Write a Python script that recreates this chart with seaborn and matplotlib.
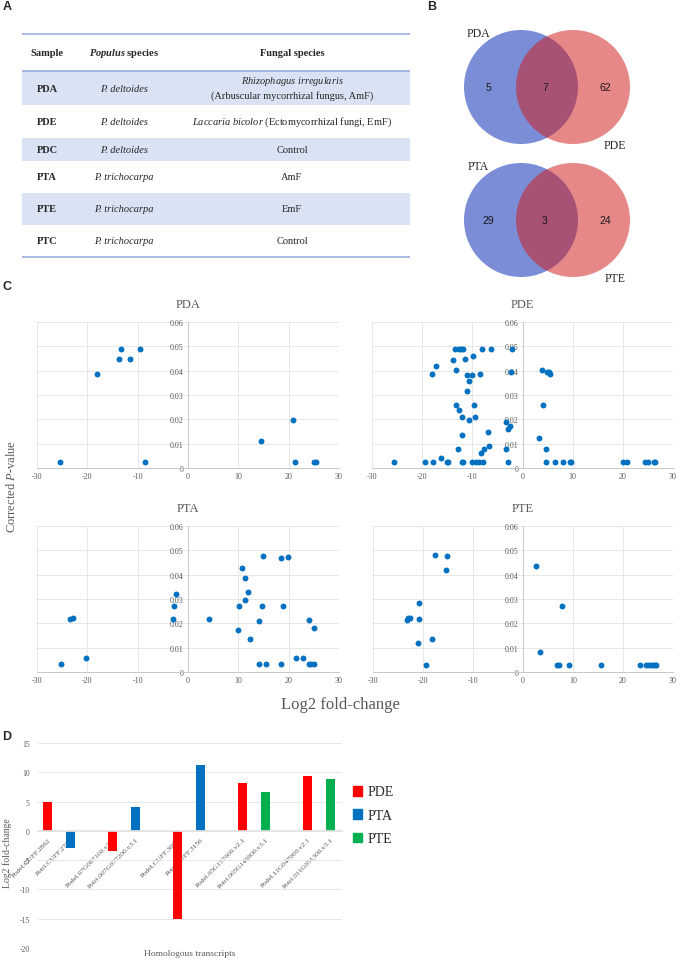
import numpy as np
import pandas as pd
import matplotlib
matplotlib.use('Agg')
import matplotlib.pyplot as plt
from matplotlib.patches import Circle, Patch
from matplotlib.ticker import FuncFormatter
import seaborn as sns

# ---- A: sample table
SAMPLES = ['PDA', 'PDE', 'PDC', 'PTA', 'PTE', 'PTC']
POPULUS = ['P. deltoides'] * 3 + ['P. trichocarpa'] * 3
FUNGI = [r'$\mathit{Rhizophagus\ irregularis}$' + '\n(Arbuscular mycorrhizal fungus, AmF)',
         r'$\mathit{Laccaria\ bicolor}$ (Ectomycorrhizal fungi, EmF)',
         'Control', 'AmF', 'EmF', 'Control']

# ---- B: Venn counts (left only, shared, right only)
VENN_SETS = [('PDA', 'PDE'), ('PTA', 'PTE')]
VENN_COUNTS = [[5, 7, 62], [29, 3, 24]]

# ---- C: log2 fold-change vs corrected P-value
pda_lfc = [-25.5, -18.0, -13.8, -13.4, -11.5, -9.5, -8.5, 14.5, 20.9, 21.3, 25.0, 25.5]
pda_p = [0.0025, 0.0385, 0.0446, 0.049, 0.0449, 0.0491, 0.0025, 0.011, 0.0198, 0.0025, 0.0025, 0.0025]

pde_lfc = [-25.7, -19.4, -17.9, -15.0, -14.8, -16.3, -18.0, -17.2, -13.8, -13.5, -12.6, -12.3,
           -11.8, -13.2, -11.5, -11.0, -10.0, -9.9, -10.6, -11.0, -13.2, -12.7, -12.0, -10.6,
           -9.6, -9.4, -12.1, -12.8, -12.1, -11.8, -10.0, -9.3, -8.6, -7.9, -8.4, -8.0,
           -6.3, -8.3, -7.7, -6.7, -6.8, -3.3, -2.9, -3.3, -2.8, -2.5, -2.3, -2.1,
           3.2, 3.9, 4.1, 4.6, 4.7, 4.9, 5.3, 5.5, 6.5, 8.1, 9.4, 9.7,
           20.1, 20.8, 24.4, 25.0, 26.2, 26.5]
pde_p = [0.0023, 0.0023, 0.0023, 0.0023, 0.0023, 0.0043, 0.0385, 0.042, 0.0444, 0.0489, 0.0489, 0.0489,
         0.0489, 0.0402, 0.0449, 0.0384, 0.0384, 0.0461, 0.0359, 0.0318, 0.0259, 0.0239, 0.0209, 0.0197,
         0.0259, 0.0209, 0.0135, 0.0078, 0.0023, 0.0023, 0.0023, 0.0023, 0.0023, 0.0023, 0.0385, 0.0489,
         0.049, 0.0063, 0.0077, 0.0092, 0.0147, 0.0189, 0.0025, 0.0078, 0.016, 0.0173, 0.0396, 0.0489,
         0.0122, 0.0402, 0.0259, 0.0078, 0.0023, 0.0396, 0.0396, 0.0388, 0.0023, 0.0023, 0.0023, 0.0023,
         0.0023, 0.0023, 0.0023, 0.0023, 0.0023, 0.0023]

pta_lfc = [-25.2, -23.4, -22.8, -20.3, -2.9, -2.7, -2.3, 4.1, 9.9, 10.1, 10.7, 11.3, 11.3, 11.9,
           12.4, 14.2, 14.2, 14.8, 14.9, 15.4, 18.4, 18.4, 18.9, 19.8, 21.5, 22.8, 24.0, 24.0,
           24.5, 25.0, 25.0]
pta_p = [0.0032, 0.0216, 0.0223, 0.0056, 0.0219, 0.027, 0.0321, 0.0219, 0.0173, 0.0273, 0.0427, 0.0297,
         0.0388, 0.0327, 0.0137, 0.021, 0.0032, 0.0271, 0.0477, 0.0032, 0.047, 0.0032, 0.0271, 0.0473,
         0.0056, 0.0056, 0.0215, 0.0032, 0.0032, 0.0181, 0.0032]

pte_lfc = [-23.3, -23.0, -22.7, -20.9, -20.9, -21.1, -19.4, -18.2, -17.7, -15.5, -15.3,
           2.5, 3.3, 6.7, 7.1, 7.7, 9.1, 15.6, 23.4, 24.6, 25.0, 25.5, 25.9, 26.3, 26.5]
pte_p = [0.0215, 0.022, 0.0223, 0.0282, 0.0219, 0.0121, 0.0029, 0.0136, 0.0479, 0.042, 0.0475,
         0.0436, 0.0081, 0.0029, 0.0029, 0.027, 0.0029, 0.0029, 0.0029, 0.0029, 0.0029, 0.0029,
         0.0029, 0.0029, 0.0029]

# ---- D: homologous transcripts
BAR_TRANSCRIPTS = ['Podel.CUFF.2862', 'Potri.CUFF.2770', 'Podel.07G087100.v2.1', 'Potri.007G077200.v3.1',
                   'Podel.CUFF.3061', 'Potri.CUFF.3156', 'Podel.05G157600.v2.1', 'Potri.005G145900.v3.1',
                   'Podel.11G047900.v2.1', 'Potri.011G051300.v3.1']
BAR_PAIR = ['1', '1', '2', '2', '3', '3', '4', '4', '5', '5']
BAR_SPECIES = ['P. deltoides', 'P. trichocarpa'] * 5
BAR_SERIES = ['PDE', 'PTA', 'PDE', 'PTA', 'PDE', 'PTA', 'PDE', 'PTE', 'PDE', 'PTE']
BAR_LFC = [4.9, -2.9, -3.4, 4.1, -15.0, 11.3, 8.1, 6.6, 9.3, 8.9]
SERIES_COLORS = {'PDE': '#FF0000', 'PTA': '#0070C0', 'PTE': '#00B050'}

GREY = '#595959'
GRID = '#E3E3E3'

sns.set_theme(style='white')
plt.rcParams['font.family'] = ['Liberation Serif', 'DejaVu Serif']
plt.rcParams['axes.unicode_minus'] = False
plt.rcParams['mathtext.fontset'] = 'custom'
plt.rcParams['mathtext.rm'] = 'Liberation Serif'
plt.rcParams['mathtext.it'] = 'Liberation Serif:italic'
plt.rcParams['mathtext.bf'] = 'Liberation Serif:bold'
plt.rcParams['mathtext.bfit'] = 'Liberation Serif:italic:bold'

W, H = 680, 962
fig = plt.figure(figsize=(W / 100, H / 100), dpi=100)


def px_axes(x0, y0, x1, y1):
    """Axes placed by pixel box (top-left origin)."""
    return fig.add_axes([x0 / W, 1 - y1 / H, (x1 - x0) / W, (y1 - y0) / H])


# ---------------- A: table
ax = px_axes(0, 0, 430, 265)
ax.set_xlim(0, 430)
ax.set_ylim(265, 0)
ax.axis('off')
edges = [35, 72, 106, 139, 162, 194, 226, 258]
col_x = [47, 124, 292]
tfs = 7.5
for i in range(len(SAMPLES)):
    top, bot = edges[i + 1], edges[i + 2]
    if i % 2 == 0:
        ax.axhspan(top, bot, xmin=22 / 430, xmax=410 / 430, color='#DAE3F3', lw=0)
ax.hlines([35, 72, 258], 22, 410, color='#8FAADC', lw=1.1)

hy = (edges[0] + edges[1]) / 2
ax.text(col_x[0], hy, 'Sample', ha='center', va='center', fontsize=tfs, fontweight='bold')
ax.text(col_x[1], hy, r'$\mathbfit{Populus}$ species', ha='center', va='center', fontsize=tfs,
        fontweight='bold')
ax.text(col_x[2], hy, 'Fungal species', ha='center', va='center', fontsize=tfs, fontweight='bold')

for i, (s, p, f) in enumerate(zip(SAMPLES, POPULUS, FUNGI)):
    mid = (edges[i + 1] + edges[i + 2]) / 2
    ax.text(col_x[0], mid, s, ha='center', va='center', fontsize=tfs, fontweight='bold')
    ax.text(col_x[1], mid, p, ha='center', va='center', fontsize=tfs, fontstyle='italic')
    lines = f.split('\n')
    offs = np.linspace(-7.5, 7.5, len(lines)) if len(lines) > 1 else [0]
    for line, o in zip(lines, offs):
        ax.text(col_x[2], mid + o, line, ha='center', va='center', fontsize=tfs)

# ---------------- B: Venn diagrams
ax = px_axes(440, 0, 680, 300)
ax.set_xlim(440, 680)
ax.set_ylim(300, 0)
ax.axis('off')
for (left, right), counts, cy in zip(VENN_SETS, VENN_COUNTS, [88, 221]):
    ax.add_patch(Circle((521, cy), 57, color='#7B8DD6', lw=0))
    ax.add_patch(Circle((573, cy), 57, color='#D11C1C', alpha=0.52, lw=0))
    for cx, n in zip([488, 545, 605], counts):
        ax.text(cx, cy, str(n), ha='center', va='center', fontsize=7.5,
                family='Liberation Sans', color='#1a1a1a')
    ax.text(478, cy - 54, left, ha='center', va='center', fontsize=8.5)
    ax.text(615, cy + 58, right, ha='center', va='center', fontsize=8.5)

# ---------------- C: scatter panels
panels = [('PDA', pda_lfc, pda_p, (37, 323, 339, 469)),
          ('PDE', pde_lfc, pde_p, (372, 323, 673, 469)),
          ('PTA', pta_lfc, pta_p, (37, 527, 339, 673)),
          ('PTE', pte_lfc, pte_p, (373, 527, 673, 673))]
for name, lfc, pval, box in panels:
    ax = px_axes(*box)
    sns.scatterplot(x=lfc, y=pval, ax=ax, color='#0070C0', s=18, linewidth=0)
    for side in ('top', 'right'):
        ax.spines[side].set_visible(False)
    ax.spines['left'].set_position(('data', 0))
    for side in ('left', 'bottom'):
        ax.spines[side].set_color('#C8C8C8')
        ax.spines[side].set_linewidth(0.7)
    ax.set_xlim(-30, 30)
    ax.set_ylim(0, 0.06)
    ax.set_xticks(range(-30, 31, 10))
    ax.set_yticks([0, 0.01, 0.02, 0.03, 0.04, 0.05, 0.06])
    ax.yaxis.set_major_formatter(FuncFormatter(lambda v, _: '0' if abs(v) < 1e-9 else f'{v:.2f}'))
    ax.grid(True, color=GRID, lw=0.6)
    ax.set_axisbelow(True)
    ax.tick_params(length=0, labelsize=5.8, labelcolor=GREY, pad=3)
    ax.set_title(name, fontsize=9, color=GREY, pad=11)
    ax.set_xlabel('')
    ax.set_ylabel('')

fig.text(12 / W, 1 - 487 / H, r'Corrected $\mathit{P}$-value', rotation=90, ha='center',
         va='center', fontsize=9, color=GREY)
fig.text(340 / W, 1 - 705 / H, 'Log2 fold-change', ha='center', va='center', fontsize=12,
         color=GREY)

# ---------------- D: bar chart
bar_df = pd.DataFrame({'pair': BAR_PAIR, 'species': BAR_SPECIES, 'series': BAR_SERIES,
                       'transcript': BAR_TRANSCRIPTS, 'lfc': BAR_LFC})
species_order = ['P. deltoides', 'P. trichocarpa']
pair_order = list(dict.fromkeys(BAR_PAIR))
ax = px_axes(38, 744, 342, 949)
sns.barplot(data=bar_df, x='pair', y='lfc', hue='species', hue_order=species_order,
            order=pair_order, dodge=True, width=0.71, gap=0.61, errorbar=None,
            legend=False, ax=ax)
for side in ('left', 'top', 'right'):
    ax.spines[side].set_visible(False)
ax.spines['bottom'].set_position(('data', 0))
ax.spines['bottom'].set_color(GRID)

tick_pos, tick_lab = [], []
for patch in ax.patches:
    cx = patch.get_x() + patch.get_width() / 2
    g = int(round(cx))
    side = 0 if cx < g else 1
    row = bar_df[(bar_df['pair'] == pair_order[g]) & (bar_df['species'] == species_order[side])].iloc[0]
    patch.set_facecolor(SERIES_COLORS[row['series']])
    patch.set_edgecolor('none')
    tick_pos.append(cx)
    tick_lab.append(row['transcript'])
order = np.argsort(tick_pos)
ax.set_xticks([tick_pos[i] for i in order], [tick_lab[i] for i in order])
ax.set_xlim(-0.33, 4.35)
ax.set_ylim(-20, 15)
ax.set_yticks(range(-20, 16, 5))
ax.grid(axis='y', color=GRID, lw=0.6)
ax.grid(axis='x', visible=False)
ax.set_axisbelow(True)
ax.tick_params(axis='x', length=0, pad=4)
ax.tick_params(axis='y', length=0, labelsize=5.5, labelcolor=GREY, pad=6)
plt.setp(ax.get_xticklabels(), rotation=45, ha='right', va='top', rotation_mode='anchor',
         fontsize=5.3, color=GREY)
ax.set_xlabel('Homologous transcripts', fontsize=6.8, color=GREY)
ax.xaxis.set_label_coords(0.5, -0.005)
ax.set_ylabel('Log2 fold-change', fontsize=7, color=GREY)
ax.yaxis.set_label_coords(-0.085, 0.47)

handles = [Patch(color=c) for c in SERIES_COLORS.values()]
fig.legend(handles, list(SERIES_COLORS), loc='upper left', bbox_to_anchor=(340 / W, 1 - 774 / H),
           frameon=False, fontsize=10, handlelength=0.7, handleheight=0.7,
           handletextpad=0.4, labelspacing=0.75)

# ---------------- panel letters
for letter, (x, y) in zip('ABCD', [(7, 7), (432, 7), (7, 287), (7, 737)]):
    fig.text(x / W, 1 - y / H, letter, ha='center', va='center', fontsize=9,
             fontweight='bold', family='Liberation Sans')

fig.savefig('out.png', dpi=100)
